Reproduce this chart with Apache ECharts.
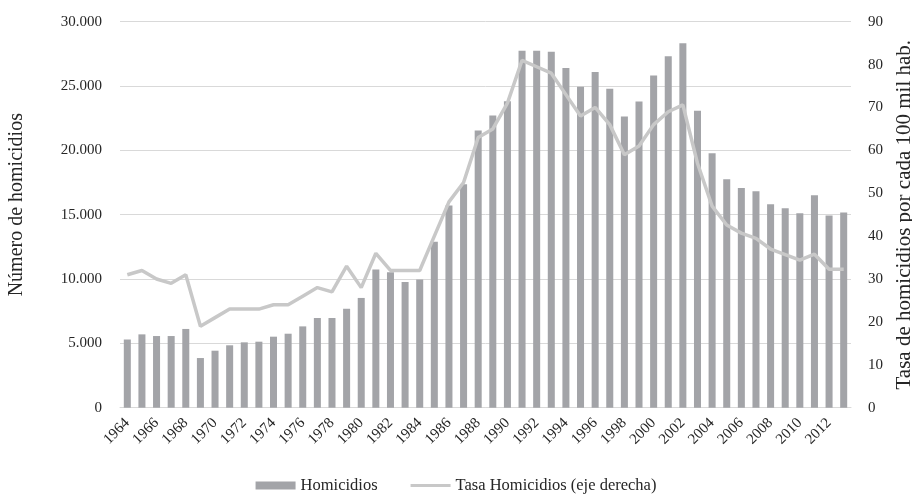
<!DOCTYPE html>
<html>
<head>
<meta charset="utf-8">
<script src="https://cdn.jsdelivr.net/npm/echarts@6/dist/echarts.min.js"></script>
<style>
html,body{margin:0;padding:0;background:#fff;}
#chart{width:912px;height:494px;}
</style>
</head>
<body>
<div id="chart"></div>
<script>
const years = ["1964","1965","1966","1967","1968","1969","1970","1971","1972","1973","1974","1975","1976","1977","1978","1979","1980","1981","1982","1983","1984","1985","1986","1987","1988","1989","1990","1991","1992","1993","1994","1995","1996","1997","1998","1999","2000","2001","2002","2003","2004","2005","2006","2007","2008","2009","2010","2011","2012","2013"];
const homicidios = [5300,5700,5570,5570,6120,3860,4430,4850,5080,5130,5520,5750,6320,6970,6970,7690,8530,10750,10520,9770,9970,12900,15710,17360,21550,22710,23820,27750,27750,27670,26410,24940,26100,24780,22640,23800,25810,27310,28320,23070,19770,17750,17080,16820,15810,15500,15120,16510,14940,15170];
const tasa = [31,32,30,29,31,19,21,23,23,23,24,24,26,28,27,33,28,36,32,32,32,40,48,52.5,63,65,71,81,79.5,78,73,68,70,66,59,61,66,69,70.6,57,47,42.6,40.7,39.5,37,35.7,34.4,35.8,32.3,32.3];
const leftTicks = {min:0, max:30000, interval:5000};
const rightTicks = {min:0, max:90, interval:10};

const font = "Liberation Serif";
const txt = "#262626";
const chart = echarts.init(document.getElementById('chart'));
chart.setOption({
  animation:false,
  textStyle:{fontFamily:font},
  grid:{left:120, right:61, top:21.7, bottom:86.3, outerBoundsMode:'none', containLabel:false},
  legend:{
    bottom:-5, left:'center',
    itemWidth:40, itemHeight:8, itemGap:33,
    textStyle:{fontFamily:font, fontSize:16.5, color:txt},
    data:[
      {name:'Homicidios', icon:'rect'},
      {name:'Tasa Homicidios (eje derecha)', icon:'path://M0,0 L40,0 L40,3 L0,3 Z', itemStyle:{color:'#c8c8c8'}}
    ]
  },
  xAxis:{
    type:'category', data:years,
    axisLine:{lineStyle:{color:'#d9d9d9', width:1}},
    axisTick:{show:false},
    axisLabel:{interval:1, rotate:45, fontFamily:font, fontSize:15, color:txt, margin:13}
  },
  yAxis:[
    {type:'value', min:leftTicks.min, max:leftTicks.max, interval:leftTicks.interval,
     name:'Número de homicidios', nameLocation:'middle', nameRotate:90, nameGap:93,
     nameTextStyle:{fontFamily:font, fontSize:20, color:txt, padding:[0,0,0,20]},
     axisLine:{show:false}, axisTick:{show:false},
     splitLine:{lineStyle:{color:'#d9d9d9', width:1}},
     axisLabel:{fontFamily:font, fontSize:15, color:txt, margin:18,
       formatter:v=>String(v).replace(/\B(?=(\d{3})+(?!\d))/g,'.')}},
    {type:'value', min:rightTicks.min, max:rightTicks.max, interval:rightTicks.interval,
     name:'Tasa de homicidios por cada 100 mil hab.', nameLocation:'middle', nameRotate:90, nameGap:42,
     nameTextStyle:{fontFamily:font, fontSize:21, color:txt},
     axisLine:{show:false}, axisTick:{show:false}, splitLine:{show:false},
     axisLabel:{fontFamily:font, fontSize:15, color:txt, margin:17}}
  ],
  series:[
    {name:'Homicidios', type:'bar', data:homicidios, barWidth:'48%',
     itemStyle:{color:'#a3a4a8'}},
    {name:'Tasa Homicidios (eje derecha)', type:'line', yAxisIndex:1, data:tasa,
     symbol:'none', lineStyle:{color:'#c8c8c8', width:3.5}, itemStyle:{color:'#c8c8c8'}, z:3}
  ]
});
</script>
</body>
</html>
